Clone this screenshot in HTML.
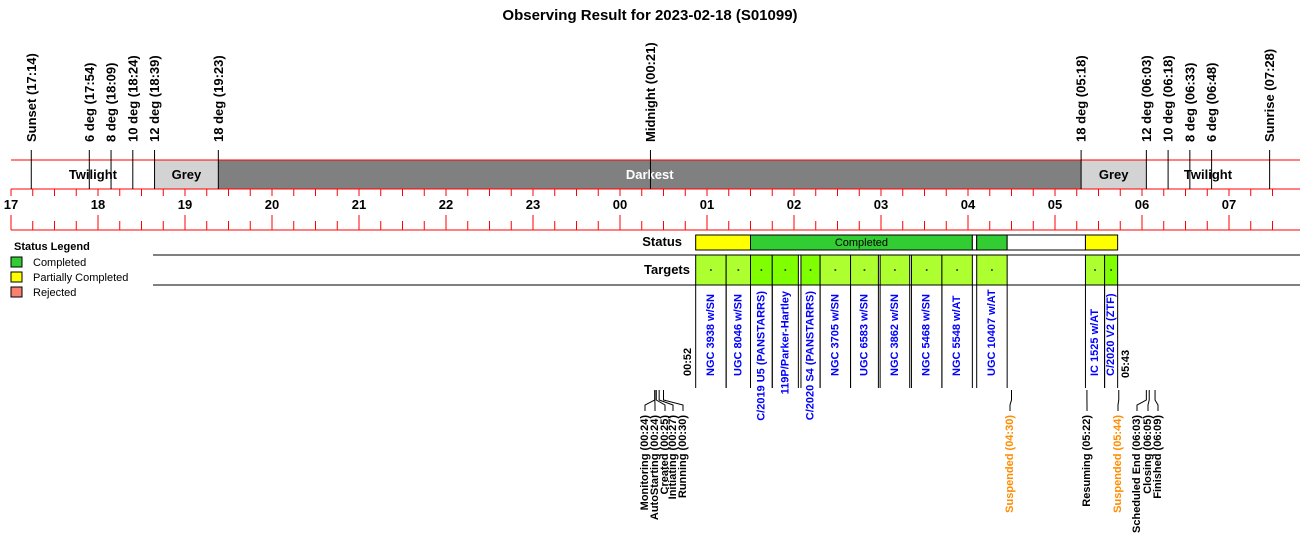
<!DOCTYPE html>
<html><head><meta charset="utf-8"><style>
body{margin:0;background:#fff}
svg{display:block;font-family:"Liberation Sans",Arial,sans-serif}
</style></head><body>
<svg id="chart" width="1300" height="560" viewBox="0 0 1300 560" xmlns="http://www.w3.org/2000/svg">
<text x="650" y="20" text-anchor="middle" font-size="15" font-weight="bold">Observing Result for 2023-02-18 (S01099)</text>
<g font-size="11" font-weight="bold">
<text x="14" y="250">Status Legend</text>
<rect x="11" y="257" width="11" height="10" fill="#32cd32" stroke="#000"/><text x="33" y="266" font-weight="normal">Completed</text>
<rect x="11" y="272" width="11" height="10" fill="#ffff00" stroke="#000"/><text x="33" y="281" font-weight="normal">Partially Completed</text>
<rect x="11" y="287" width="11" height="10" fill="#fa8072" stroke="#000"/><text x="33" y="296" font-weight="normal">Rejected</text>
</g>
<g id="layer"></g>
</svg>
<script>
const hourTicks=["17","18","19","20","21","22","23","00","01","02","03","04","05","06","07"];
const skyNames=["Sunset (17:14)","6 deg (17:54)","8 deg (18:09)","10 deg (18:24)","12 deg (18:39)","18 deg (19:23)","Midnight (00:21)","18 deg (05:18)","12 deg (06:03)","10 deg (06:18)","8 deg (06:33)","6 deg (06:48)","Sunrise (07:28)"];
const skyTimes=[17.233,17.9,18.15,18.4,18.65,19.383,24.35,29.3,30.05,30.3,30.55,30.8,31.467];
const bandNames=["Twilight","Grey","Darkest","Grey","Twilight"];
const bandStart=[17.233,18.65,19.383,29.3,30.05];
const bandEnd=[18.65,19.383,29.3,30.05,31.467];
const bandColors=["#ffffff","#d3d3d3","#808080","#d3d3d3","#ffffff"];
const statusStart=[24.87,25.5,28.05,28.1,28.45,29.35];
const statusEnd=[25.5,28.05,28.1,28.45,29.35,29.72];
const statusKind=["partial","completed","none","completed","none","partial"];
const targetNames=["NGC 3938 w/SN","UGC 8046 w/SN","C/2019 U5 (PANSTARRS)","119P/Parker-Hartley","C/2020 S4 (PANSTARRS)","NGC 3705 w/SN","UGC 6583 w/SN","NGC 3862 w/SN","NGC 5468 w/SN","NGC 5548 w/AT","UGC 10407 w/AT","IC 1525 w/AT","C/2020 V2 (ZTF)"];
const targetStart=[24.87,25.22,25.5,25.75,26.08,26.3,26.65,26.99,27.35,27.7,28.1,29.35,29.57];
const targetEnd=[25.22,25.5,25.75,26.05,26.3,26.65,26.97,27.33,27.7,28.05,28.45,29.57,29.72];
const targetBright=[0,0,1,1,1,0,0,0,0,0,0,0,1];
const eventNames=["Monitoring (00:24)","AutoStarting (00:24)","Created (00:25)","Initiating (00:27)","Running (00:30)","Suspended (04:30)","Resuming (05:22)","Suspended (05:44)","Scheduled End (06:03)","Closing (06:05)","Finished (06:09)"];
const eventTimes=[24.4,24.4,24.417,24.45,24.5,28.5,29.367,29.733,30.05,30.083,30.15];
const eventLabelX=[645,655,665,673,683,1010,1087,1118,1137,1148,1158];
const eventWarn=[0,0,0,0,0,1,0,1,0,0,0];

const X=h=>11+87*(h-17);
const NS="http://www.w3.org/2000/svg";
const L=document.getElementById('layer');
function mk(t,a,p){const e=document.createElementNS(NS,t);for(const k in a)e.setAttribute(k,a[k]);(p||L).appendChild(e);return e;}
function vtext(x,y,s,anchor,size,fill,p){const t=mk('text',{transform:`translate(${x},${y}) rotate(-90)`,'text-anchor':anchor,'font-size':size,'font-weight':'bold',fill:fill,'dominant-baseline':'central'},p);t.textContent=s;return t;}

// bands
bandNames.forEach((n,i)=>{
  const g=mk('g',{});
  
  
  mk('rect',{x:X(bandStart[i]),y:160,width:X(bandEnd[i])-X(bandStart[i]),height:29,fill:bandColors[i]},g);
  const t=mk('text',{x:(X(bandStart[i])+X(bandEnd[i]))/2,y:179,'text-anchor':'middle','font-size':13,'font-weight':'bold',fill:n==='Darkest'?'#fff':'#000'},g);
  t.textContent=n;
});
[160,189,230].forEach(y=>{const l=mk('line',{x1:11,y1:y,x2:1300,y2:y,stroke:'#f00','stroke-width':1});

});
// sky markers
skyNames.forEach((n,i)=>{
  const x=X(skyTimes[i]);
  const g=mk('g',{});
  
  
  mk('line',{x1:x,y1:150,x2:x,y2:189,stroke:'#000'},g);
  vtext(x,142,n,'start',13,'#000',g);
});
// ticks
for(let q=0;q<=58;q++){
  const h=17+q/4,x=X(h);
  mk('line',{x1:x,y1:189,x2:x,y2:196,stroke:'#f00'});
  mk('line',{x1:x,y1:q%4===0?215:221,x2:x,y2:230,stroke:'#f00'});
}
hourTicks.forEach((s,i)=>{const t=mk('text',{x:X(17+i),y:209,'text-anchor':'middle','font-size':13,'font-weight':'bold'});


t.textContent=s;});
// rows
[255,285].forEach(y=>mk('line',{x1:153,y1:y,x2:1300,y2:y,stroke:'#000'}));
let t=mk('text',{x:682,y:246,'text-anchor':'end','font-size':13,'font-weight':'bold'});t.textContent='Status';


t=mk('text',{x:690,y:274,'text-anchor':'end','font-size':13,'font-weight':'bold'});t.textContent='Targets';


statusStart.forEach((s,i)=>{
  const c={partial:'#ffff00',completed:'#32cd32',none:'#fff'}[statusKind[i]];
  const r=mk('rect',{x:X(s),y:235,width:X(statusEnd[i])-X(s),height:15,fill:c,stroke:'#000'});
  
  
  if(statusKind[i]==='completed'&&X(statusEnd[i])-X(s)>100){const tt=mk('text',{x:(X(s)+X(statusEnd[i]))/2,y:246,'text-anchor':'middle','font-size':11});tt.textContent='Completed';}
});
// targets
targetNames.forEach((n,i)=>{
  const x0=X(targetStart[i]),x1=X(targetEnd[i]),cx=(x0+x1)/2;
  const g=mk('g',{});
  
  
  mk('rect',{x:x0,y:255,width:x1-x0,height:30,fill:targetBright[i]?'#7fff00':'#adff2f',stroke:'#000'},g);
  mk('circle',{cx:cx,cy:270,r:1,fill:'#333'},g);
  mk('line',{x1:x0,y1:285,x2:x0,y2:388,stroke:'#000'},g);
  mk('line',{x1:x1,y1:285,x2:x1,y2:388,stroke:'#000'},g);
  if(n.length>17) vtext(cx,291,n,'end',11,'#0000ff',g);
  else vtext(cx,376,n,'start',11,'#0000ff',g);
});
vtext(688,376,'00:52','start',11,'#000');
vtext(1126,378,'05:43','start',11,'#000');
// events
eventNames.forEach((n,i)=>{
  const ex=X(eventTimes[i]),lx=eventLabelX[i];
  const g=mk('g',{});
  
  
  mk('polyline',{points:`${ex},390 ${ex},400 ${lx},405 ${lx},411`,fill:'none',stroke:'#000'},g);
  vtext(lx,415,n,'end',11,eventWarn[i]?'#ff8c00':'#000',g);
});
</script>
</body></html>
